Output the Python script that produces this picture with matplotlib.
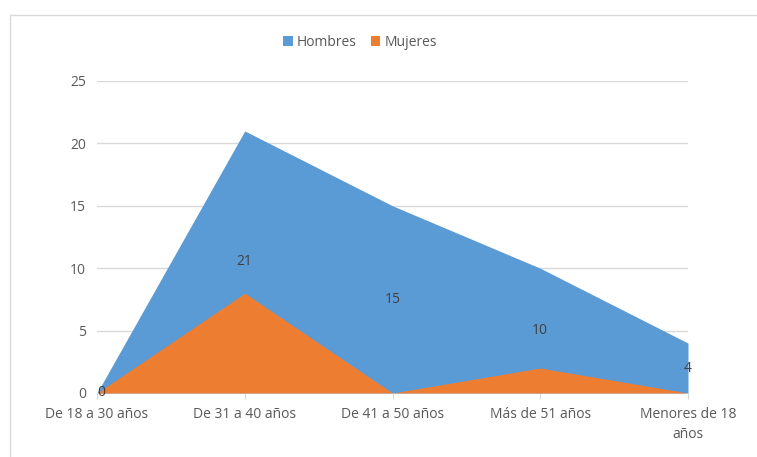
import matplotlib

matplotlib.use("Agg")
import matplotlib.pyplot as plt
from matplotlib.patches import Rectangle

categories = ["De 18 a 30 años", "De 31 a 40 años", "De 41 a 50 años",
              "Más de 51 años", "Menores de 18\naños"]
hombres = [0, 21, 15, 10, 4]
mujeres = [0, 8, 0, 2, 0]
yticks = [0, 5, 10, 15, 20, 25]

BLUE = "#5B9BD5"
ORANGE = "#ED7D31"
TEXT = "#595959"

plt.rcParams["font.family"] = ["Open Sans", "DejaVu Sans"]

fig = plt.figure(figsize=(7.57, 4.57), dpi=100)
fig.patches.append(Rectangle((10 / 757, -0.1), 1.2, 1 - 15 / 457 + 0.1,
                             transform=fig.transFigure, fill=False,
                             edgecolor="#D9D9D9", linewidth=1))
ax = fig.add_axes([97 / 757, 1 - 393 / 457, (688 - 97) / 757, (393 - 81) / 457])

x = list(range(len(categories)))
ax.fill_between(x, hombres, color=BLUE, linewidth=0, label="Hombres", zorder=2)
ax.fill_between(x, mujeres, color=ORANGE, linewidth=0, label="Mujeres", zorder=3)

# data labels for Hombres sit at mid-height of the area
for xi, v in zip(x, hombres):
    ax.text(xi, v / 2, str(v), ha="center" if v else "left", va="center",
            fontsize=10, color="#404040", zorder=4)

ax.set_xlim(0, len(categories) - 1)
ax.set_ylim(0, 25)
ax.set_yticks(yticks)
ax.set_xticks(x)
ax.set_xticklabels(categories, fontsize=10, color=TEXT, linespacing=1.5)
ax.tick_params(axis="y", length=0, labelsize=10, labelcolor=TEXT, pad=8)
ax.tick_params(axis="x", length=4, color="#D9D9D9", pad=6)
ax.grid(axis="y", color="#D9D9D9", linewidth=1, zorder=0)
ax.set_axisbelow(True)
for s in ax.spines.values():
    s.set_visible(False)

fig.legend(loc="center", bbox_to_anchor=(360 / 757, 1 - 42 / 457), ncol=2,
           frameon=False, fontsize=10, handlelength=0.7, handleheight=0.7,
           handletextpad=0.3, columnspacing=1.0, labelcolor=TEXT)

fig.savefig("out.png", dpi=100)
